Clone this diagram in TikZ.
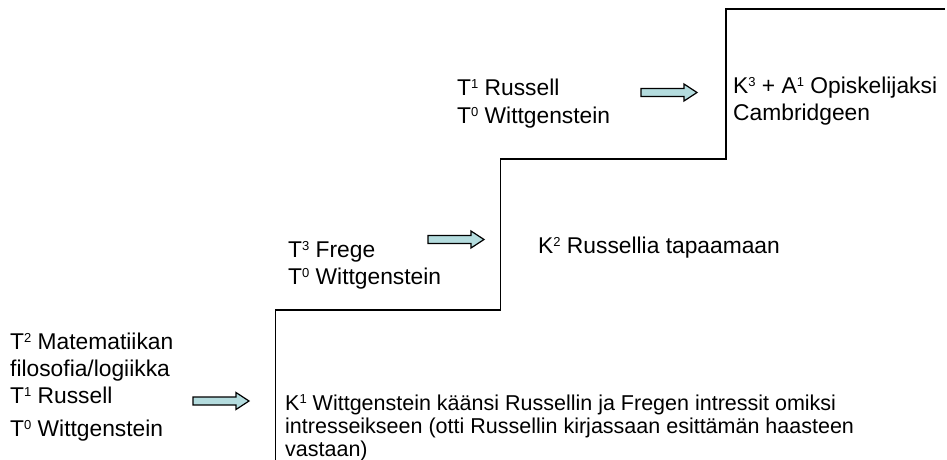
\documentclass[tikz,border=0pt]{standalone}
\usepackage{fontspec}
\setmainfont{Liberation Sans}
\definecolor{arrowfill}{RGB}{180,220,222}
\newcommand{\up}[1]{\raisebox{6.5pt}{\fontsize{13}{13}\selectfont #1}}

\begin{document}
\begin{tikzpicture}[x=1pt, y=-1pt,
    txt/.style={anchor=base west, inner sep=0pt, align=left, font=\fontsize{22.8}{27}\selectfont},
    blockarrow/.pic={\draw[fill=arrowfill, line width=1.2pt]
        (0,-4) -- (43,-4) -- (43,-8.5) -- (56,0) -- (43,8.5) -- (43,4) -- (0,4) -- cycle;}]
    \useasboundingbox (0,0) rectangle (947,460);

    % steps
    \draw[line width=1.5pt] (275.5,460) |- (500.5,310) |- (726,159) |- (945,9);

    % texts (base = last line)
    \node[txt] (lower) at (10,436) {T\up{2} Matematiikan\\ filosofia/logiikka\\ T\up{1} Russell\\[6pt] T\up{0} Wittgenstein};
    \node[txt] (middle) at (288,284) {T\up{3} Frege\\ T\up{0} Wittgenstein};
    \node[txt] (upper) at (457,123) {T\up{1} Russell\\[1pt] T\up{0} Wittgenstein};
    \node[txt, font=\fontsize{21.5}{23}\selectfont] (k1) at (285,456) {K\up{1} Wittgenstein käänsi Russellin ja Fregen intressit omiksi\\ intresseikseen (otti Russellin kirjassaan esittämän haasteen\\ vastaan)};
    \node[txt] (k2) at (538,253) {K\up{2} Russellia tapaamaan};
    \node[txt] (k3) at (733,120) {K\up{3} + A\up{1} Opiskelijaksi\\ Cambridgeen};

    % arrows
    \pic (a1) at (193,401) {blockarrow};
    \pic (a2) at (428,239.5) {blockarrow};
    \pic (a3) at (641,92.5) {blockarrow};
\end{tikzpicture}
\end{document}
